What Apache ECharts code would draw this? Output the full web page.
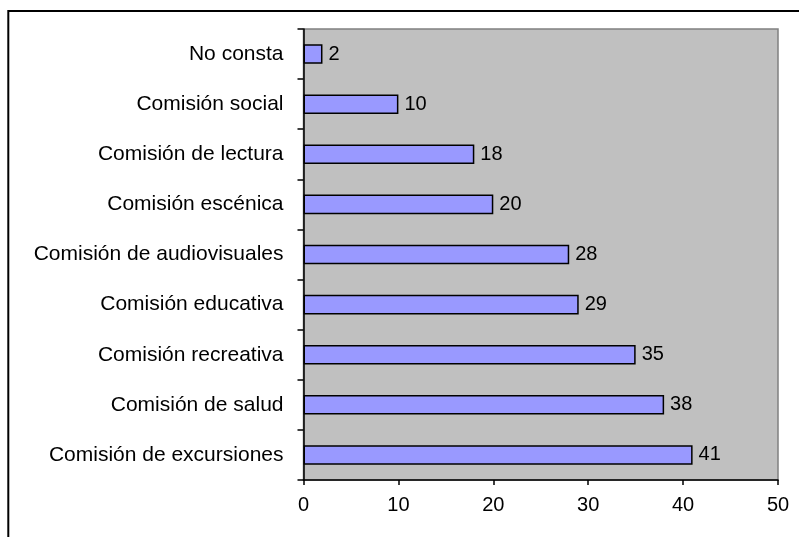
<!DOCTYPE html>
<html>
<head>
<meta charset="utf-8">
<script src="https://cdn.jsdelivr.net/npm/echarts@6/dist/echarts.min.js"></script>
<style>
html,body{margin:0;padding:0;background:#fff;}
#c{width:799px;height:537px;}
</style>
</head>
<body>
<div id="c"></div>
<script>
const categories = ["No consta","Comisión social","Comisión de lectura","Comisión escénica","Comisión de audiovisuales","Comisión educativa","Comisión recreativa","Comisión de salud","Comisión de excursiones"];
const values = [2,10,18,20,28,29,35,38,41];
const xTicks = [0,10,20,30,40,50];

const FONT = "'Liberation Sans', Arial, sans-serif";
const chart = echarts.init(document.getElementById('c'), null, {renderer:'canvas'});
chart.setOption({
  animation:false,
  backgroundColor:'#ffffff',
  graphic:[{
    type:'rect', z:100, silent:true,
    shape:{x:8.3,y:11,width:1000,height:1000},
    style:{fill:'none',stroke:'#000',lineWidth:2}
  }],
  grid:{
    left:303.5, top:29, right:21, bottom:57,
    show:true, backgroundColor:'#C0C0C0', borderColor:'#808080', borderWidth:1.5
  },
  xAxis:{
    type:'value', min:xTicks[0], max:xTicks[xTicks.length-1], interval:10,
    axisLine:{show:true,lineStyle:{color:'#000',width:1.5}},
    axisTick:{show:true,length:5,lineStyle:{color:'#000',width:1.5}},
    splitLine:{show:false},
    axisLabel:{color:'#000',fontSize:20,fontFamily:FONT,margin:15}
  },
  yAxis:{
    type:'category', data:categories, inverse:true,
    axisLine:{show:true,lineStyle:{color:'#000',width:1.5}},
    axisTick:{show:true,length:6,alignWithLabel:false,lineStyle:{color:'#000',width:1.5}},
    axisLabel:{color:'#000',fontSize:21,fontFamily:FONT,margin:20}
  },
  series:[{
    type:'bar', data:values, barWidth:'39%',
    itemStyle:{color:'#9999FF',borderColor:'#000',borderWidth:1.5},
    label:{show:true,position:'right',distance:6,color:'#000',fontSize:20,fontFamily:FONT}
  }]
});
</script>
</body>
</html>
